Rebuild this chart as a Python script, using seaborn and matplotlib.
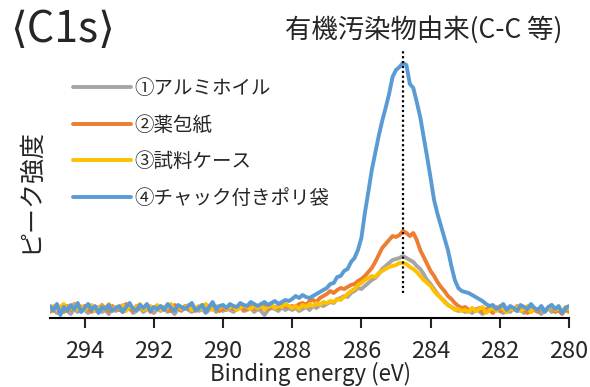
import numpy as np
import matplotlib
matplotlib.use("Agg")
import matplotlib.pyplot as plt
import seaborn as sns

sns.set_style("white")
plt.rcParams['font.family'] = ['Noto Sans CJK JP', 'DejaVu Sans']

# binding energy grid, 295.0 -> 280.0 eV, 0.1 eV step
energy = np.round(np.arange(295.0, 279.95, -0.1), 1)

labels = ['①アルミホイル', '②薬包紙', '③試料ケース', '④チャック付きポリ袋']
colors = ['#A5A5A5', '#ED7D31', '#FFC000', '#5B9BD5']

# intensities (arbitrary units)
alu = [6, 9, 5, 8, 11, 7, 4, 9, 6, 10,
       8, 5, 9, 7, 11, 6, 8, 4, 10, 7,
       9, 6, 8, 11, 5, 7, 10, 6, 9, 8,
       5, 9, 7, 10, 6, 8, 4, 9, 7, 11,
       8, 6, 10, 7, 9, 5, 8, 11, 6, 9,
       7, 10, 8, 6, 9, 11, 7, 8, 10, 6,
       9, 7, 3, 8, 10, 9, 7, 11, 8, 10,
       8, 10, 7, 9, 11, 8, 12, 10, 13, 12,
       14, 16, 15, 19, 20, 22, 21, 25, 27, 30,
       29, 32, 35, 38, 40, 44, 49, 52, 55, 58,
       59, 60, 62, 60, 58, 56, 52, 49, 44, 38,
       34, 29, 24, 20, 17, 13, 11, 9, 7, 8,
       6, 8, 5, 9, 7, 4, 8, 10, 6, 9,
       7, 5, 8, 6, 10, 7, 9, 5, 8, 6,
       9, 7, 4, 8, 10, 6, 9, 7, 5, 8, 6]

paper = [11, 7, 13, 9, 6, 12, 8, 14, 10, 7,
         12, 9, 6, 11, 8, 13, 10, 7, 12, 9,
         8, 11, 14, 9, 7, 12, 10, 8, 13, 6,
         10, 12, 8, 11, 9, 7, 13, 10, 8, 12,
         9, 11, 7, 10, 13, 8, 12, 9, 11, 7,
         10, 8, 12, 9, 11, 13, 8, 10, 12, 9,
         11, 10, 13, 9, 12, 11, 10, 13, 12, 11,
         12, 11, 14, 15, 13, 17, 18, 16, 20, 22,
         24, 27, 25, 28, 30, 29, 31, 33, 34, 37,
         39, 42, 46, 50, 56, 63, 70, 74, 78, 82,
         81, 83, 87, 85, 82, 85, 78, 68, 61, 54,
         47, 42, 36, 31, 27, 22, 19, 15, 12, 10,
         11, 8, 9, 7, 10, 6, 9, 8, 5, 11,
         7, 9, 6, 10, 8, 12, 7, 9, 5, 11,
         8, 6, 10, 7, 9, 13, 6, 8, 4, 9, 7]

case = [9, 12, 8, 11, 14, 7, 10, 13, 9, 12,
        8, 11, 13, 7, 10, 12, 9, 14, 8, 11,
        10, 13, 7, 12, 9, 11, 14, 8, 10, 12,
        9, 13, 8, 11, 10, 14, 7, 12, 9, 11,
        13, 8, 10, 12, 9, 14, 11, 8, 12, 10,
        13, 9, 11, 12, 8, 10, 13, 11, 9, 12,
        10, 12, 9, 11, 13, 10, 12, 11, 14, 12,
        10, 12, 9, 13, 11, 14, 12, 15, 13, 16,
        15, 17, 16, 19, 18, 21, 24, 27, 29, 33,
        35, 38, 40, 42, 41, 45, 47, 49, 51, 52,
        53, 55, 55, 54, 51, 49, 46, 42, 38, 35,
        32, 27, 23, 20, 16, 13, 11, 8, 9, 7,
        8, 6, 10, 7, 9, 11, 5, 8, 10, 7,
        12, 9, 6, 10, 8, 11, 7, 9, 12, 6,
        10, 8, 11, 7, 9, 13, 8, 10, 6, 11, 9]

bag = [12, 8, 14, 3, 11, 7, 13, 9, 15, 6,
       10, 14, 8, 12, 5, 11, 9, 13, 7, 10,
       12, 6, 11, 15, 9, 8, 13, 10, 14, 7,
       11, 9, 12, 8, 14, 10, 7, 13, 11, 9,
       12, 15, 8, 10, 13, 6, 11, 16, 9, 12,
       13, 10, 14, 12, 11, 15, 13, 12, 16, 14,
       12, 14, 16, 13, 15, 17, 14, 16, 18, 17,
       19, 22, 20, 23, 21, 20, 22, 24, 26, 28,
       30, 34, 35, 41, 42, 47, 49, 56, 60, 68,
       80, 105, 126, 148, 165, 182, 197, 210, 224, 241,
       248, 251, 255, 253, 234, 230, 216, 201, 181, 161,
       140, 118, 104, 92, 80, 68, 52, 38, 30, 27,
       26, 25, 23, 21, 19, 17, 14, 12, 13, 9,
       11, 14, 8, 12, 10, 7, 13, 11, 9, 14,
       10, 8, 12, 6, 11, 13, 9, 12, 5, 10, 12]

peak_pos = 284.8

fig = plt.figure(figsize=(5.9, 3.87), dpi=100)
ax = fig.add_axes([50/590, 69/387, 519/590, 273/387])

for vals, lab, col in zip([alu, paper, case, bag], labels, colors):
    sns.lineplot(x=energy, y=vals, ax=ax, color=col, lw=2.8, label=lab)

ax.vlines(peak_pos, 25, 269, colors='black', linestyles=(0, (1, 1.2)), lw=1.6)

ax.set_xlim(295, 280)
ax.set_ylim(0, 273)
ax.set_xticks([294, 292, 290, 288, 286, 284, 282, 280])
ax.set_yticks([])
ax.tick_params(axis='x', direction='out', length=7, width=1.5, labelsize=17, pad=9, bottom=True)
for s in ['top', 'right', 'left']:
    ax.spines[s].set_visible(False)
ax.spines['bottom'].set_linewidth(1.5)
ax.spines['bottom'].set_color('black')
ax.set_xlabel('')
ax.set_ylabel('')

ax.legend(loc='upper left', bbox_to_anchor=(0.044, 0.879), frameon=False, fontsize=14,
          handlelength=3.0, handletextpad=0.15, labelspacing=0.8, borderpad=0, borderaxespad=0)

fig.text(10/590, 1 - 30/387, '⟨C1s⟩', fontsize=31, ha='left', va='center')
fig.text(424/590, 1 - 30/387, '有機汚染物由来(C-C 等)', fontsize=19, ha='center', va='center')
fig.text(30/590, 1 - 190/387, 'ピーク強度', fontsize=18, rotation=90, ha='center', va='center')
fig.text(310/590, 1 - 374/387, 'Binding energy (eV)', fontsize=16, ha='center', va='center')

fig.savefig('out.png', dpi=100)
